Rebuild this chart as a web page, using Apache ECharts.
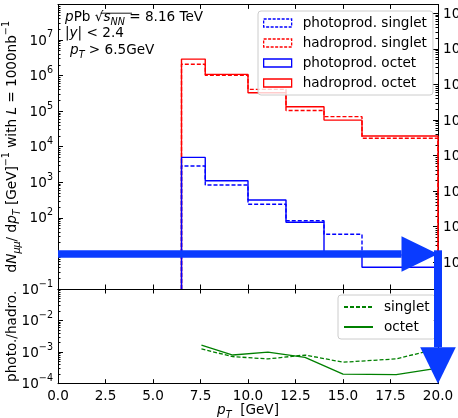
<!DOCTYPE html>
<html><head><meta charset="utf-8">
<script src="https://cdn.jsdelivr.net/npm/echarts@6/dist/echarts.min.js"></script>
<style>html,body{margin:0;padding:0;background:#fff}#c{width:458px;height:418px}</style>
</head><body><div id="c"></div>
<script>
// ---- data ----
const binEdges = [6.5, 7.75, 10, 12, 14, 16, 20];
const photoSinglet = [2870, 840, 240, 83, 34.5, 9];
const hadroSinglet = [2.07e6, 1.02e6, 4.1e5, 1.04e5, 7.0e4, 1.72e4];
const photoOctet   = [5000, 1100, 318, 75, 10, 4.1];
const hadroOctet   = [2.9e6, 1.08e6, 3.3e5, 1.33e5, 5.6e4, 2.0e4];

const ratioX       = [7.55, 9.2, 11.05, 13.0, 15.0, 17.8, 20.0];
const ratioSinglet = [1.26e-3, 7.2e-4, 6.1e-4, 8.1e-4, 4.8e-4, 6.1e-4, 1.3e-3];
const ratioOctet   = [1.68e-3, 8.1e-4, 1.0e-3, 6.8e-4, 2.0e-4, 1.95e-4, 3.1e-4];

const xTicks = [0, 2.5, 5, 7.5, 10, 12.5, 15, 17.5, 20];
const topTickValues = [1e0, 1e1, 1e2, 1e3, 1e4, 1e5, 1e6, 1e7, 1e8];
const topLabelValues = [1e2, 1e3, 1e4, 1e5, 1e6, 1e7];
const rightTickValues = [1e0, 1e1, 1e2, 1e3, 1e4, 1e5, 1e6, 1e7];
const ratioTickValues = [1e-4, 1e-3, 1e-2, 1e-1];
const arrowLevel = 9.6;

const FONT = 'DejaVu Sans';
const FS = 13.6;

function stepData(edges, vals, floor) {
  const d = [[edges[0], floor]];
  for (let i = 0; i < vals.length; i++) d.push([edges[i], vals[i]]);
  d.push([edges[edges.length - 1], vals[vals.length - 1]]);
  d.push([edges[edges.length - 1], floor]);
  return d;
}
function minorTicks(lo, hi) {
  const out = [];
  for (let n = lo; n < hi; n++) for (let k = 2; k <= 9; k++) out.push(+(k * Math.pow(10, n)).toPrecision(6));
  return out;
}
const supRich = {
  b: {fontFamily: FONT, fontSize: FS, color: '#000', verticalAlign: 'bottom', lineHeight: 16},
  s: {fontFamily: FONT, fontSize: 9.6, color: '#000', verticalAlign: 'bottom', lineHeight: 11, padding: [0, 0, 8, 0]}
};
function powLabel(v) {
  const e = Math.round(Math.log10(v));
  return '{b|10}{s|' + (e < 0 ? '\u2212' + (-e) : e) + '}';
}

const inTick = (vals, len) => ({show: true, inside: true, length: len, customValues: vals, lineStyle: {color: '#000', width: 1}});
const blackLine = {show: true, lineStyle: {color: '#000', width: 1}};

const nameRich = {
  n: {fontFamily: FONT, fontSize: FS, color: '#000', verticalAlign: 'bottom', padding: [0, 0, 3, 0]},
  i: {fontFamily: FONT, fontSize: FS, fontStyle: 'italic', color: '#000', verticalAlign: 'bottom', padding: [0, 0, 3, 0]},
  sub: {fontFamily: FONT, fontSize: 9.6, fontStyle: 'italic', color: '#000', verticalAlign: 'bottom', padding: [0, 0, 0, 0]},
  sup: {fontFamily: FONT, fontSize: 9.6, color: '#000', verticalAlign: 'bottom', padding: [0, 0, 11, 0]}
};

const xBase = {type: 'value', min: 0, max: 20, splitLine: {show: false}, axisLine: blackLine};

const option = {
  animation: false,
  backgroundColor: '#fff',
  grid: [
    {left: 58, top: 4.4, width: 380, height: 284.6, outerBoundsMode: 'none', containLabel: false},
    {left: 58, top: 289, width: 380, height: 94.7, outerBoundsMode: 'none', containLabel: false}
  ],
  xAxis: [
    Object.assign({}, xBase, {gridIndex: 0, position: 'bottom', axisTick: inTick(xTicks, 4.5), axisLabel: {show: false}}),
    Object.assign({}, xBase, {gridIndex: 0, position: 'top', axisTick: inTick(xTicks, 4.5), axisLabel: {show: false}}),
    Object.assign({}, xBase, {gridIndex: 1, position: 'bottom', axisTick: inTick(xTicks, 4.5),
      axisLabel: {show: true, customValues: xTicks, formatter: v => v.toFixed(1), fontFamily: FONT, fontSize: FS, color: '#000', margin: 6},
      name: '{i|p}{sub|T}{n|  [GeV]}', nameLocation: 'middle', nameGap: 20, nameMoveOverlap: false,
      nameTextStyle: {rich: nameRich}}),
    Object.assign({}, xBase, {gridIndex: 1, position: 'top', axisTick: inTick(xTicks, 4.5), axisLabel: {show: false}})
  ],
  yAxis: [
    {type: 'log', gridIndex: 0, position: 'left', min: 1, max: 1e8, splitLine: {show: false}, axisLine: blackLine,
     axisTick: inTick(topTickValues, 5),
     axisLabel: {customValues: topLabelValues, formatter: powLabel, rich: supRich, margin: 5},
     name: '{n|d}{i|N}{sub|\u03bc\u03bc}{n|/ d}{i|p}{sub|T}{n| [GeV]}{sup|\u22121}{n| with }{i|L}{n| = 1000nb}{sup|\u22121}',
     nameLocation: 'middle', nameRotate: 90, nameGap: 36, nameMoveOverlap: false, nameTextStyle: {rich: nameRich}},
    {type: 'log', gridIndex: 0, position: 'left', min: 1, max: 1e8, splitLine: {show: false}, axisLine: {show: false},
     axisTick: inTick(minorTicks(0, 8), 2.5), axisLabel: {show: false}},
    {type: 'log', gridIndex: 0, position: 'right', min: Math.pow(10, -0.75), max: Math.pow(10, 7.25), splitLine: {show: false}, axisLine: blackLine,
     axisTick: inTick(rightTickValues, 5),
     axisLabel: {customValues: rightTickValues, formatter: powLabel, rich: supRich, margin: 5}},
    {type: 'log', gridIndex: 0, position: 'right', min: Math.pow(10, -0.75), max: Math.pow(10, 7.25), splitLine: {show: false}, axisLine: {show: false},
     axisTick: inTick(minorTicks(-1, 8).filter(v => v > 0.178 && v < 1.77e7), 2.5), axisLabel: {show: false}},
    {type: 'log', gridIndex: 1, position: 'left', min: 1e-4, max: 1e-1, splitLine: {show: false}, axisLine: blackLine,
     axisTick: inTick(ratioTickValues, 5),
     axisLabel: {customValues: ratioTickValues, formatter: powLabel, rich: supRich, margin: 5},
     name: '{n|photo./hadro.}', nameLocation: 'middle', nameRotate: 90, nameGap: 36, nameMoveOverlap: false, nameTextStyle: {rich: nameRich}},
    {type: 'log', gridIndex: 1, position: 'left', min: 1e-4, max: 1e-1, splitLine: {show: false}, axisLine: {show: false},
     axisTick: inTick(minorTicks(-4, -1), 2.5), axisLabel: {show: false}},
    {type: 'log', gridIndex: 1, position: 'right', min: 1e-4, max: 1e-1, splitLine: {show: false}, axisLine: blackLine,
     axisTick: inTick(ratioTickValues, 5), axisLabel: {show: false}}
  ],
  legend: [
    {orient: 'vertical', left: 258, top: 11, padding: [4, 6, 4, 5], itemGap: 4, itemWidth: 28, itemHeight: 8,
     backgroundColor: 'rgba(255,255,255,0.8)', borderColor: '#cccccc', borderWidth: 1, borderRadius: 3,
     selectedMode: false,
     textStyle: {fontFamily: FONT, fontSize: FS, color: '#000', lineHeight: 16, padding: [0, 0, 0, 6]},
     data: [
       {name: 'photoprod. singlet', icon: 'rect', itemStyle: {color: 'rgba(0,0,0,0)', borderColor: '#0000ff', borderWidth: 1.3, borderType: [3, 1.5]}},
       {name: 'hadroprod. singlet', icon: 'rect', itemStyle: {color: 'rgba(0,0,0,0)', borderColor: '#ff0000', borderWidth: 1.3, borderType: [3, 1.5]}},
       {name: 'photoprod. octet', icon: 'rect', itemStyle: {color: 'rgba(0,0,0,0)', borderColor: '#0000ff', borderWidth: 1.3, borderType: 'solid'}},
       {name: 'hadroprod. octet', icon: 'rect', itemStyle: {color: 'rgba(0,0,0,0)', borderColor: '#ff0000', borderWidth: 1.3, borderType: 'solid'}}
     ]},
    {orient: 'vertical', left: 338, top: 295, padding: [4, 6, 4, 5], itemGap: 4, itemWidth: 29, itemHeight: 8,
     backgroundColor: 'rgba(255,255,255,0.8)', borderColor: '#cccccc', borderWidth: 1, borderRadius: 3,
     selectedMode: false,
     itemStyle: {color: 'rgba(0,0,0,0)', borderWidth: 0, opacity: 0},
     textStyle: {fontFamily: FONT, fontSize: FS, color: '#000', lineHeight: 16, padding: [0, 0, 0, 6]},
     data: ['singlet', 'octet']}
  ],
  series: [
    {name: 'hadroprod. octet', type: 'line', step: 'end', xAxisIndex: 0, yAxisIndex: 0, symbol: 'none',
     data: stepData(binEdges, hadroOctet, 1), itemStyle: {color: '#ff0000'}, lineStyle: {color: '#ff0000', width: 1.4, type: 'solid'}},
    {name: 'hadroprod. singlet', type: 'line', step: 'end', xAxisIndex: 0, yAxisIndex: 0, symbol: 'none',
     data: stepData(binEdges, hadroSinglet, 1), itemStyle: {color: '#ff0000'}, lineStyle: {color: '#ff0000', width: 1.4, type: [4, 2]}},
    {name: 'photoprod. singlet', type: 'line', step: 'end', xAxisIndex: 0, yAxisIndex: 0, symbol: 'none',
     data: stepData(binEdges, photoSinglet, 1), itemStyle: {color: '#0000ff'}, lineStyle: {color: '#0000ff', width: 1.4, type: [4, 2]}},
    {name: 'photoprod. octet', type: 'line', step: 'end', xAxisIndex: 0, yAxisIndex: 0, symbol: 'none',
     data: stepData(binEdges, photoOctet, 1), itemStyle: {color: '#0000ff'}, lineStyle: {color: '#0000ff', width: 1.4, type: 'solid'}},
    {name: 'singlet', type: 'line', xAxisIndex: 2, yAxisIndex: 4, symbol: 'none',
     data: ratioX.map((x, i) => [x, ratioSinglet[i]]), itemStyle: {color: '#008000'}, lineStyle: {color: '#008000', width: 1.3, type: [4, 2]}},
    {name: 'octet', type: 'line', xAxisIndex: 2, yAxisIndex: 4, symbol: 'none',
     data: ratioX.map((x, i) => [x, ratioOctet[i]]), itemStyle: {color: '#008000'}, lineStyle: {color: '#008000', width: 1.3, type: 'solid'}}
  ]
};

const annRich = {
  n: {fontFamily: FONT, fontSize: FS, color: '#000', verticalAlign: 'bottom', padding: [0, 0, 3, 0]},
  i: {fontFamily: FONT, fontSize: FS, fontStyle: 'italic', color: '#000', verticalAlign: 'bottom', padding: [0, 0, 3, 0]},
  sub: {fontFamily: FONT, fontSize: 9.6, fontStyle: 'italic', color: '#000', verticalAlign: 'bottom'},
  subr: {fontFamily: FONT, fontSize: 9.6, color: '#000', verticalAlign: 'bottom'}
};

const chart = echarts.init(document.getElementById('c'), null, {renderer: 'canvas'});
chart.setOption(option);

// annotation text & arrows
const pL = chart.convertToPixel({seriesIndex: 0}, [0, arrowLevel]);
const pR = chart.convertToPixel({seriesIndex: 0}, [20, arrowLevel]);
const pB = chart.convertToPixel({seriesIndex: 4}, [20, 1e-4]);
const ARROW = '#0a3bff';
const shaftH = 7.5, headL = 36.5, headW = 17.8;
chart.setOption({
  graphic: [
    {type: 'text', left: 65, top: 10.5, z: 10, style: {text: '{i|p}{n|Pb }{n|\u221a}{i|s}{sub|NN}{n| = 8.16 TeV}', rich: annRich}},
    {type: 'line', z: 10, shape: {x1: 100.5, y1: 13.2, x2: 132, y2: 13.2}, style: {stroke: '#000', lineWidth: 0.9}},
    {type: 'text', left: 65, top: 26.5, z: 10, style: {text: '{n||}{i|y}{n|| < 2.4}', rich: annRich}},
    {type: 'text', left: 70, top: 43.5, z: 10, style: {text: '{i|p}{sub|T}{n| > 6.5GeV}', rich: annRich}},
    {type: 'rect', z: 20, shape: {x: pL[0], y: pL[1] - shaftH / 2, width: pR[0] - headL - pL[0], height: shaftH}, style: {fill: ARROW}},
    {type: 'polygon', z: 20, shape: {points: [[pR[0] - headL, pR[1] - headW], [pR[0], pR[1]], [pR[0] - headL, pR[1] + headW]]}, style: {fill: ARROW}},
    {type: 'rect', z: 20, shape: {x: pR[0] - 4, y: pR[1] - shaftH / 2, width: 8, height: pB[1] - headL - (pR[1] - shaftH / 2)}, style: {fill: ARROW}},
    {type: 'polygon', z: 20, shape: {points: [[pB[0] - headW, pB[1] - headL], [pB[0] + headW, pB[1] - headL], [pB[0], pB[1]]]}, style: {fill: ARROW}}
  ]
});
</script></body></html>
